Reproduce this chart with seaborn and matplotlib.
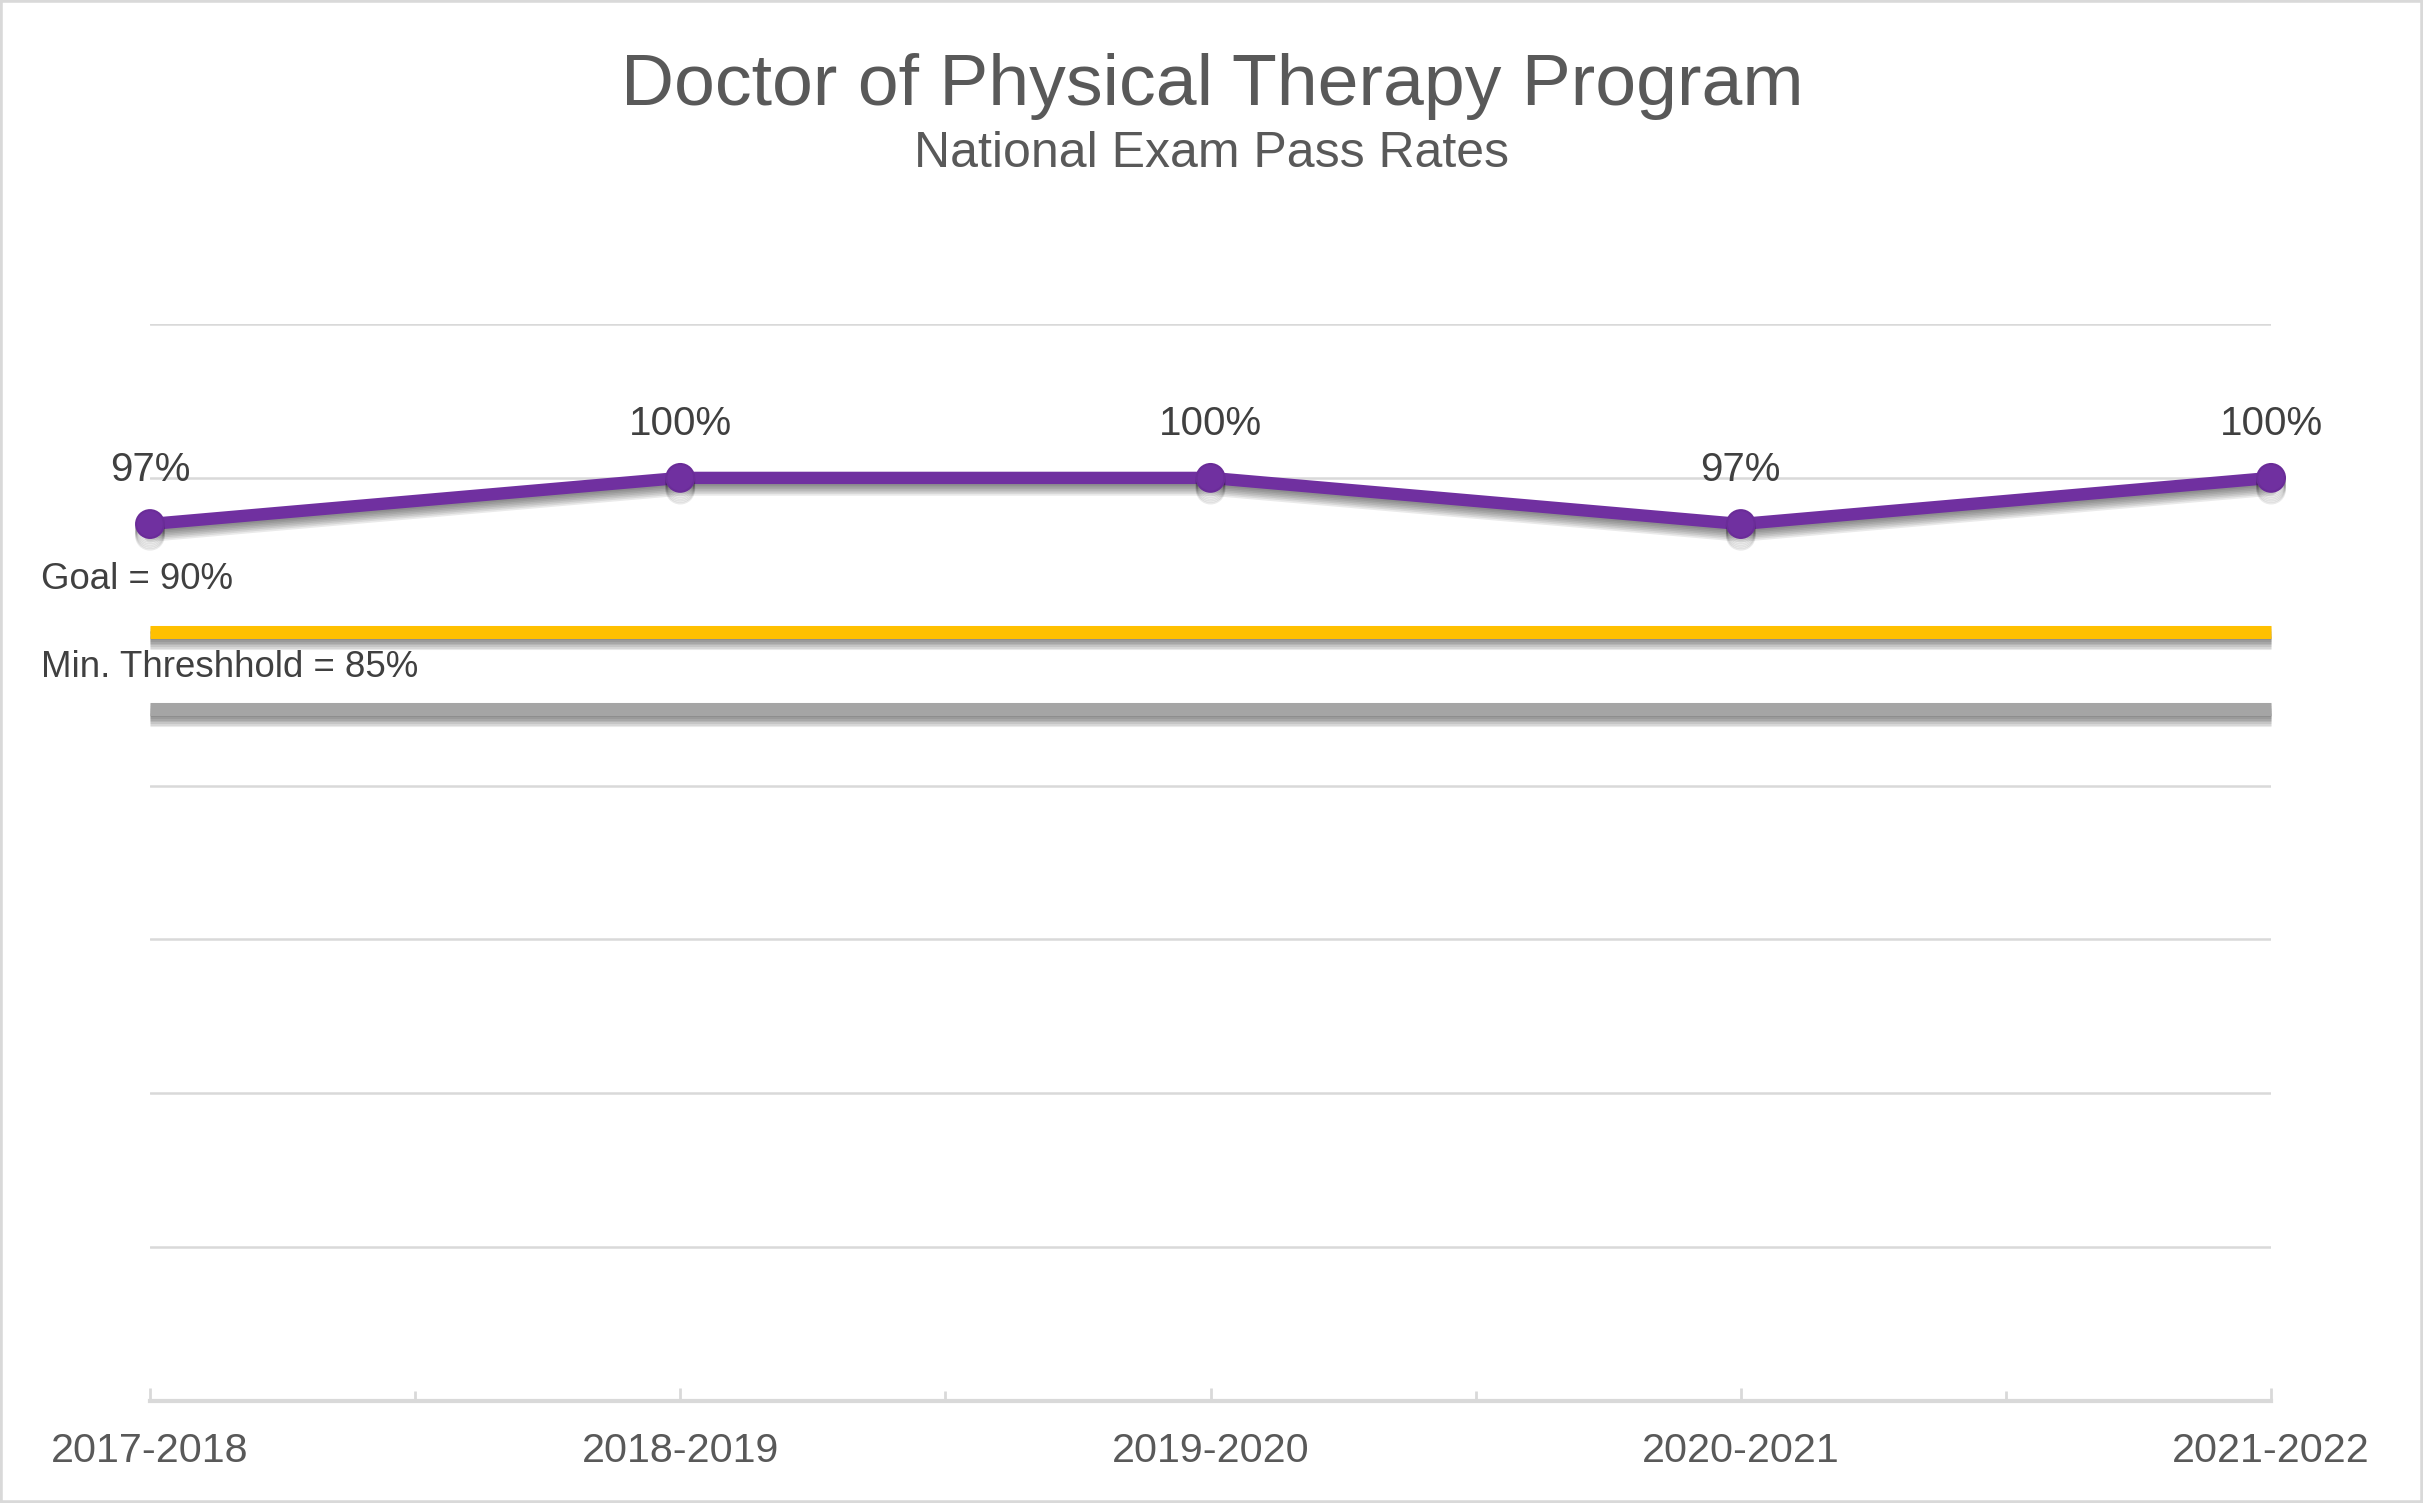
import matplotlib
matplotlib.use("Agg")
import matplotlib.pyplot as plt
import matplotlib.patheffects as pe
from matplotlib.patches import Rectangle
import seaborn as sns

# ---- data ----
years = ["2017-2018", "2018-2019", "2019-2020", "2020-2021", "2021-2022"]
pass_rates = [97, 100, 100, 97, 100]
goal = [90, 90, 90, 90, 90]
threshold = [85, 85, 85, 85, 85]
y_ticks = [50, 60, 70, 80, 90, 100, 110]
title = "Doctor of Physical Therapy Program"
subtitle = "National Exam Pass Rates"
goal_label = "Goal = 90%"
threshold_label = "Min. Threshhold = 85%"

sns.set_theme(style="white")
plt.rcParams["font.family"] = ["Liberation Sans", "DejaVu Sans"]

fig = plt.figure(figsize=(24.23, 15.03), dpi=100)
ax = fig.add_axes([0.0619, 0.0679, 0.8754, 0.7165])


def shadow(steps=7, step=1.2, alpha=0.09):
    effects = [pe.SimpleLineShadow(offset=(0, -step * (k + 1)), shadow_color="k",
                                   alpha=alpha) for k in range(steps)]
    effects.append(pe.Normal())
    return effects


sns.lineplot(x=years, y=threshold, ax=ax, color="#A5A5A5", linewidth=9.4,
             sort=False, zorder=3, solid_capstyle="butt")
sns.lineplot(x=years, y=goal, ax=ax, color="#FFC000", linewidth=9.4,
             sort=False, zorder=3, solid_capstyle="butt")
sns.lineplot(x=years, y=pass_rates, ax=ax, color="#7030A0", linewidth=8.9,
             marker="o", markersize=20, markerfacecolor="#7030A0",
             markeredgecolor="#6A2C98", markeredgewidth=1.5,
             sort=False, zorder=5)

lines = ax.get_lines()
for ln in lines:
    ln.set_path_effects(shadow())
    ln.set_clip_on(False)

for i, v in enumerate(pass_rates):
    ax.annotate(f"{v}%", xy=(i, v), xytext=(0, 31), textcoords="offset points",
                ha="center", va="baseline", fontsize=29, color="#404040", zorder=6)

ax.set_xlim(0, len(years) - 1)
ax.set_ylim(40, 110)
ax.set_yticks(y_ticks)
ax.set_yticklabels([])
ax.tick_params(axis="y", length=0)
ax.grid(axis="y", color="#D9D9D9", linewidth=1.8, zorder=0)
ax.grid(axis="x", visible=False)
ax.set_axisbelow(True)

for s in ["top", "right", "left"]:
    ax.spines[s].set_visible(False)
ax.spines["bottom"].set_color("#D9D9D9")
ax.spines["bottom"].set_linewidth(3)
ax.spines["bottom"].set_zorder(2)

ax.set_xticks(range(len(years)))
ax.set_xticklabels(years)
ax.set_xticks([0.5, 1.5, 2.5, 3.5], minor=True)
ax.tick_params(axis="x", which="major", direction="in", length=9.4, width=2,
               color="#D9D9D9", labelsize=29.7, labelcolor="#595959", pad=22,
               bottom=True)
ax.tick_params(axis="x", which="minor", direction="in", length=7, width=2,
               color="#D9D9D9", bottom=True)
ax.set_xlabel("")
ax.set_ylabel("")

fig.text(0.5003, 0.9301, title, ha="center", va="baseline", fontsize=52.8, color="#595959")
fig.text(0.5, 0.8891, subtitle, ha="center", va="baseline", fontsize=36, color="#595959")
fig.text(0.0169, 0.6081, goal_label, ha="left", va="baseline", fontsize=26.4, color="#404040")
fig.text(0.0169, 0.5496, threshold_label, ha="left", va="baseline", fontsize=26.4, color="#404040")

fig.patches.append(Rectangle((0, 0), 1, 1, transform=fig.transFigure, fill=False,
                             edgecolor="#D9D9D9", linewidth=4))

fig.savefig("out.png", dpi=100, facecolor="white")
